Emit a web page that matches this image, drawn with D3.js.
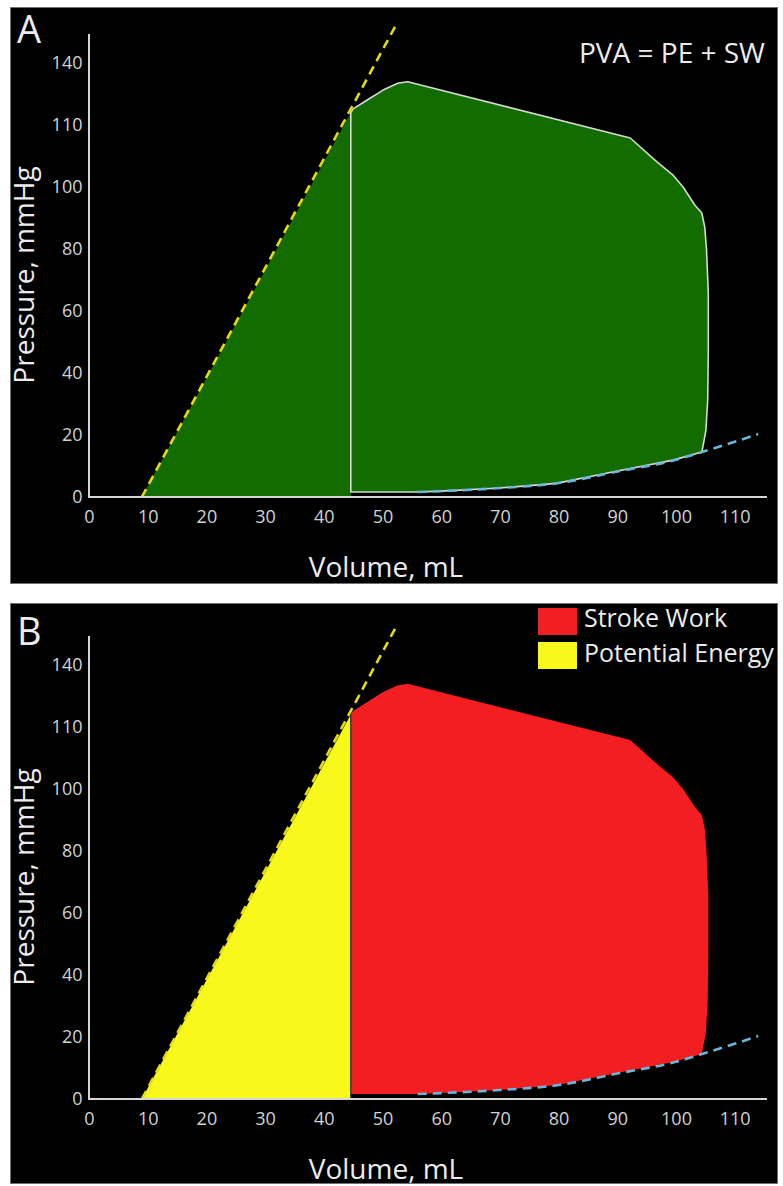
<!DOCTYPE html>
<html>
<head>
<meta charset="utf-8">
<script src="https://cdn.jsdelivr.net/npm/d3@7"></script>
<style>
  html, body { margin: 0; padding: 0; background: #ffffff; }
  svg { display: block; font-family: "Open Sans", "DejaVu Sans", sans-serif; }
</style>
</head>
<body>
<svg id="chart" width="783" height="1186"></svg>
<script>
// ---- Axis ticks ----
const volumeTicks = [0, 10, 20, 30, 40, 50, 60, 70, 80, 90, 100, 110];
const pressureTicks = [0, 20, 40, 60, 80, 100, 110, 140];
const pressureTickLabels = ["0", "20", "40", "60", "80", "100", "110", "140"];

// ---- End-systolic pressure–volume relation (straight, dashed yellow) ----
const espvrVolume = [9.0, 52.6];
const espvrPressure = [0, 160];

// ---- End-diastolic pressure–volume relation (dashed blue) ----
const edpvrVolume = [56, 60, 70, 80, 90, 100, 104.4, 110, 114];
const edpvrPressure = [1.6, 1.9, 2.9, 4.5, 8.2, 12.0, 14.5, 17.8, 20.3];

// ---- Pressure–volume loop, clockwise from the end-systolic corner ----
const loopVolume = [44.6, 45.0, 47.4, 50.1, 52.6, 54.3, 92.2, 96.8, 99.5, 101.2, 103.2,
  104.4, 104.9, 105.2, 105.5, 105.5, 105.4, 105.1, 104.7, 104.4,
  99.5, 89.6, 79.6, 70, 60, 55.9, 44.6];
const loopPressure = [116, 117.8, 122.1, 126.9, 130.2, 130.9, 107.9, 104.0, 101.9, 100, 94.2,
  91.6, 87.1, 79.7, 65.8, 47, 31.3, 21.6, 17.4, 14.5,
  11.9, 8.2, 4.4, 2.9, 1.9, 1.6, 1.6];

// ---- Potential-energy triangle corners ----
const v0 = 9.0;          // volume intercept of the ESPVR, mL
const esv = 44.6;        // end-systolic volume, mL
const esp = 116;         // end-systolic pressure, mmHg

// ---- Legend of panel B ----
const legendLabels = ["Stroke Work", "Potential Energy"];

// ---- Colours ----
const C = {
  bg: "#000000",
  green: "#136c00",
  red: "#f21e22",
  yellow: "#f8f81a",
  espvr: "#e2dc10",
  edpvr: "#6cb4d8",
  outline: "#d8d8d8",
  axis: "#d6d6d6",
  tick: "#d2d2d2",
  title: "#ececec"
};
const legendColors = [C.red, C.yellow];

// ---- Scales (shared by both panels) ----
const plotBottom = 497, tickStep = 62;
const x = d3.scaleLinear().domain([0, 115]).range([89, 89 + 115 * 5.87]);
const y = d3.scaleLinear()
  .domain(pressureTicks)
  .range(pressureTicks.map((d, i) => plotBottom - i * tickStep));
const volumeAxisEnd = 115.5, pressureAxisTop = 154;

const svg = d3.select("#chart");

const pts = (vs, ps) => vs.map((v, i) => [v, ps[i]]);
const line = d3.line().x(d => x(d[0])).y(d => y(d[1]));
const smooth = d3.line().x(d => x(d[0])).y(d => y(d[1])).curve(d3.curveMonotoneX);

function drawPanel(top, height, offset, mode) {
  // panel background
  svg.append("rect")
    .attr("x", 10.5).attr("y", top + 0.5)
    .attr("width", 767).attr("height", height)
    .attr("fill", C.bg).attr("stroke", "#707070").attr("stroke-width", 1);

  const g = svg.append("g").attr("transform", `translate(0,${offset})`);

  const triangle = [[v0, 0], [esv, esp], [esv, 0]];
  const loop = pts(loopVolume, loopPressure);

  if (mode === "A") {
    g.append("path").attr("d", line(triangle) + "Z").attr("fill", C.green);
    g.append("path").attr("d", line(loop) + "Z")
      .attr("fill", C.green).attr("stroke", C.outline)
      .attr("stroke-width", 1.6).attr("stroke-linejoin", "round");
  } else {
    g.append("path").attr("d", line(triangle) + "Z").attr("fill", C.yellow);
    g.append("path").attr("d", line(loop) + "Z").attr("fill", C.red);
    g.append("line")
      .attr("x1", x(esv)).attr("x2", x(esv))
      .attr("y1", y(0)).attr("y2", y(esp))
      .attr("stroke", "#2a2a10").attr("stroke-width", 1.2);
  }

  // ESPVR
  g.append("path").attr("d", line(pts(espvrVolume, espvrPressure)))
    .attr("fill", "none").attr("stroke", C.espvr)
    .attr("stroke-width", 2.6).attr("stroke-dasharray", "9,6");

  // EDPVR
  g.append("path").attr("d", smooth(pts(edpvrVolume, edpvrPressure)))
    .attr("fill", "none").attr("stroke", C.edpvr)
    .attr("stroke-width", 2.6).attr("stroke-dasharray", "9,6");

  // axis lines
  g.append("line")
    .attr("x1", x(0)).attr("x2", x(0))
    .attr("y1", y(pressureAxisTop)).attr("y2", y(0))
    .attr("stroke", C.axis).attr("stroke-width", 2);
  g.append("line")
    .attr("x1", x(0) - 1).attr("x2", x(volumeAxisEnd))
    .attr("y1", y(0)).attr("y2", y(0))
    .attr("stroke", C.axis).attr("stroke-width", 2);

  // tick labels
  const ya = g.append("g").attr("transform", `translate(${x(0)},0)`)
    .call(d3.axisLeft(y).tickValues(pressureTicks)
      .tickFormat((d, i) => pressureTickLabels[i])
      .tickSize(0).tickPadding(6.5));
  const xa = g.append("g").attr("transform", `translate(0,${y(0)})`)
    .call(d3.axisBottom(x).tickValues(volumeTicks).tickSize(0).tickPadding(13));
  [ya, xa].forEach(a => {
    a.select(".domain").remove();
    a.selectAll("text")
      .attr("fill", C.tick)
      .style("font-family", '"Open Sans", sans-serif')
      .style("font-size", "18px");
  });

  // axis titles
  g.append("text")
    .attr("x", 386).attr("y", 577)
    .attr("text-anchor", "middle")
    .attr("fill", C.title).style("font-size", "28px")
    .text("Volume, mL");
  g.append("text")
    .attr("transform", "translate(34,275) rotate(-90)")
    .attr("text-anchor", "middle")
    .attr("fill", C.title).style("font-size", "28px")
    .text("Pressure, mmHg");

  // panel letter
  g.append("text")
    .attr("x", 17).attr("y", 43)
    .attr("fill", C.title).style("font-size", "38px")
    .text(mode);

  if (mode === "A") {
    g.append("text")
      .attr("x", 579).attr("y", 63)
      .attr("fill", C.title).style("font-size", "28px")
      .text("PVA = PE + SW");
  } else {
    const lg = g.append("g");
    legendLabels.forEach((lab, i) => {
      lg.append("rect")
        .attr("x", 538).attr("y", 6 + i * 34)
        .attr("width", 39).attr("height", 27)
        .attr("fill", legendColors[i]);
      lg.append("text")
        .attr("x", 584).attr("y", 25 + i * 35)
        .attr("fill", C.title).style("font-size", "25px")
        .text(lab);
    });
  }
}

drawPanel(7, 576, 0, "A");
drawPanel(603, 580, 602, "B");
</script>
</body>
</html>
